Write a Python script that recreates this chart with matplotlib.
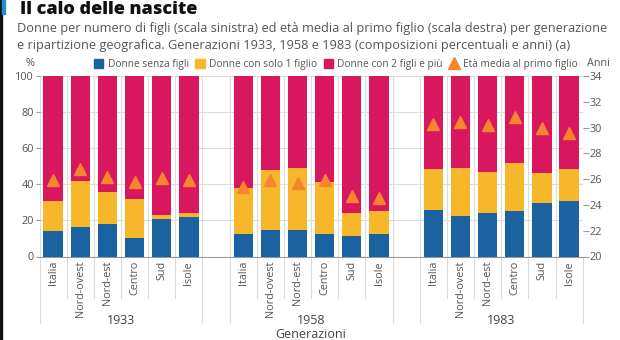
import matplotlib
matplotlib.use("Agg")
import matplotlib.pyplot as plt
from matplotlib.patches import Rectangle
from matplotlib.lines import Line2D
import numpy as np

plt.rcParams['font.family'] = ['Open Sans', 'DejaVu Sans']

generations = ["1933", "1958", "1983"]
regions = ["Italia", "Nord-ovest", "Nord-est", "Centro", "Sud", "Isole"]

senza_figli = [14, 16.5, 18, 10, 21, 22,
               12.5, 14.5, 14.5, 12.5, 11.5, 12.5,
               26, 22.5, 24, 25, 29.5, 30.5]
un_figlio = [17, 25.5, 18, 22, 2, 2,
             25.5, 33.5, 34.5, 28.5, 12.5, 12.5,
             22.5, 26.5, 23, 27, 17, 18]
due_piu = [69, 58, 64, 68, 77, 76,
           62, 52, 51, 59, 76, 75,
           51.5, 51, 53, 48, 53.5, 51.5]
eta_media = [25.9, 26.8, 26.2, 25.8, 26.1, 25.9,
             25.4, 25.9, 25.7, 25.9, 24.7, 24.5,
             30.25, 30.4, 30.2, 30.8, 30.0, 29.6]

labels_series = ["Donne senza figli", "Donne con solo 1 figlio",
                 "Donne con 2 figli e più", "Età media al primo figlio"]
left_ticks = [0, 20, 40, 60, 80, 100]
right_ticks = [20, 22, 24, 26, 28, 30, 32, 34]

c_blue = "#1b63a0"
c_yel = "#f7b72a"
c_mag = "#d8175f"
c_tri = "#f5862f"
c_grid = "#dcdcdc"
c_txt = "#555555"

W, H = 620, 340
fig = plt.figure(figsize=(W / 100, H / 100), dpi=100)
ax_l, ax_r, ax_b, ax_t = 39.5, 582.7, 256.5, 76
ax = fig.add_axes([ax_l / W, 1 - ax_b / H, (ax_r - ax_l) / W, (ax_b - ax_t) / H])

ng = len(regions)
pos = []
for gi in range(len(generations)):
    for ri in range(ng):
        pos.append(gi * (ng + 1) + ri)
pos = np.array(pos, dtype=float)
b1 = np.array(senza_figli)
b2 = np.array(un_figlio)
b3 = np.array(due_piu)

bw = 0.71
ax.bar(pos, b1, bw, color=c_blue, zorder=3, label=labels_series[0])
ax.bar(pos, b2, bw, bottom=b1, color=c_yel, zorder=3, label=labels_series[1])
ax.bar(pos, b3, bw, bottom=b1 + b2, color=c_mag, zorder=3, label=labels_series[2])

ax.set_xlim(-0.5, pos[-1] + 0.5)
ax.set_ylim(0, 100)
ax.set_yticks(left_ticks)
ax.set_xticks([])
for gx in np.arange(-0.5, pos[-1] + 1, 1.0):
    ax.axvline(gx, color=c_grid, lw=0.8, zorder=1)
for gy in left_ticks[1:]:
    ax.axhline(gy, color=c_grid, lw=0.8, zorder=1)
for s in ["top", "right", "left"]:
    ax.spines[s].set_visible(False)
ax.spines["bottom"].set_color("#999999")
ax.spines["bottom"].set_linewidth(0.8)
ax.tick_params(axis="y", labelsize=7.8, labelcolor=c_txt, color="#999999",
               length=3, width=0.8, pad=1)

ax2 = ax.twinx()
ax2.set_ylim(20, 34)
ax2.set_yticks(right_ticks)
for s in ["top", "left", "bottom", "right"]:
    ax2.spines[s].set_visible(False)
ax2.tick_params(axis="y", labelsize=7.8, labelcolor=c_txt, color="#999999",
                length=4, width=0.8, pad=1)
ax2.plot(pos, eta_media, linestyle="none", marker="^", markersize=8.5,
         color=c_tri, zorder=5, label=labels_series[3])

# category labels and separators below axis
trans = ax.get_xaxis_transform()
for i, p in enumerate(pos):
    ax.text(p, -0.025, regions[i % ng], rotation=90, ha="center", va="top",
            fontsize=7.8, color=c_txt, transform=trans)
for gi, g in enumerate(generations):
    start = gi * (ng + 1) - 0.5
    end = start + ng
    for k in range(1, ng):
        ax.add_line(Line2D([start + k, start + k], [0, -0.23], transform=trans,
                           color=c_grid, lw=0.8, clip_on=False))
    for e in (start, end):
        ax.add_line(Line2D([e, e], [0, -0.37], transform=trans,
                           color=c_grid, lw=0.8, clip_on=False))
    ax.text((start + end) / 2, -0.355, g, ha="center", va="center",
            fontsize=9, color="#444444", transform=trans)
ax.text(0.5, -0.43, "Generazioni", ha="center", va="center", fontsize=9,
        color="#444444", transform=ax.transAxes)

# axis unit labels
fig.text(30 / W, 1 - 64 / H, "%", ha="center", va="center", fontsize=7.8, color=c_txt)
fig.text(598 / W, 1 - 63 / H, "Anni", ha="center", va="center", fontsize=7.8, color=c_txt)

# legend
handles = [Rectangle((0, 0), 1, 1, color=c_blue), Rectangle((0, 0), 1, 1, color=c_yel),
           Rectangle((0, 0), 1, 1, color=c_mag),
           Line2D([], [], linestyle="none", marker="^", markersize=8.5, color=c_tri)]
fig.legend(handles, labels_series, loc="center right", bbox_to_anchor=(578 / W, 1 - 64.5 / H),
           ncol=4, frameon=False, fontsize=7.3, handlelength=0.9, handleheight=0.9,
           handletextpad=0.45, columnspacing=0.65, borderaxespad=0, borderpad=0,
           labelcolor=c_txt)

# title & subtitle
fig.text(20 / W, 1 - 14 / H, "Il calo delle nascite", ha="left", va="baseline",
         fontsize=13, fontweight="heavy", color="#111111")
fig.text(17 / W, 1 - 28.5 / H,
         "Donne per numero di figli (scala sinistra) ed età media al primo figlio (scala destra) per generazione",
         ha="left", va="center", fontsize=9.2, color=c_txt)
fig.text(17 / W, 1 - 45 / H,
         "e ripartizione geografica. Generazioni 1933, 1958 e 1983 (composizioni percentuali e anni) (a)",
         ha="left", va="center", fontsize=9.2, color=c_txt)

# left border and accent
fig.patches.append(Rectangle((0, 0), 1.5 / W, 1, transform=fig.transFigure,
                             color="#111111", zorder=10))
fig.patches.append(Rectangle((1.5 / W, 1 - 14 / H), 3 / W, 14 / H, transform=fig.transFigure,
                             color="#1e8fd6", zorder=10))

fig.savefig("out.png", dpi=100)
